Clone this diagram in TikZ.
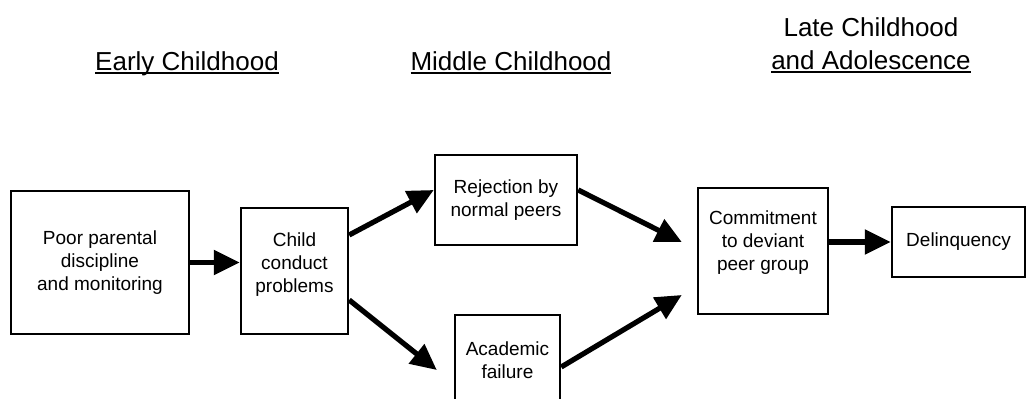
\documentclass[tikz,border=0pt]{standalone}
\usepackage{fontspec}
\setmainfont{Liberation Sans}
\usetikzlibrary{arrows.meta, positioning}
% underline that sits just under the baseline
\newcommand{\eraline}[1]{\setbox0\hbox{#1}\rlap{\rule[-1.6pt]{\wd0}{0.9pt}}\box0}
\tikzset{
  stage/.style={draw, rectangle, line width=1.2pt, align=center, inner sep=2pt, font=\fontsize{9.5}{11.5}\selectfont},
  era/.style={anchor=base, font=\fontsize{13}{16.5}\selectfont},
  flow/.style={-{Triangle[length=13pt, width=12pt]}, line width=2.6pt},
}

\begin{document}
\begin{tikzpicture}[x=0.5pt, y=-0.5pt]
  \useasboundingbox (0,0) rectangle (1028,399);
  \clip (0,0) rectangle (1028,399);

  \node[era] (early) at (187,71) {\eraline{Early Childhood}};
  \node[era] (middle) at (511,71) {\eraline{Middle Childhood}};
  \node[era] (adol) at (871,70) {\eraline{and Adolescence}};
  \node[era] (late) at (871,37) {Late Childhood};

  \node[stage, minimum width=89pt, minimum height=71.5pt] (parent) at (100,262.5) {Poor parental\\discipline\\and monitoring};
  \node[stage, minimum width=53.5pt, minimum height=63pt, text depth=8pt] (child) at (294.5,271) {Child\\conduct\\problems};
  \node[stage, minimum width=71pt, minimum height=45pt] (reject) at (506,200) {Rejection by\\normal peers};
  \node[stage, minimum width=52.5pt, minimum height=45pt] (school) at (507.5,360) {Academic\\failure};
  \node[stage, minimum width=65pt, minimum height=63pt, text depth=10pt] (peer) at (763,251) {Commitment\\to deviant\\peer group};
  \node[stage, minimum width=66.5pt, minimum height=35pt] (delinq) at (958.5,242) {Delinquency};

  \draw[flow] (parent.east) -- (parent.east -| child.west);
  \draw[flow] ([yshift=18pt]child.east) -- ([yshift=5pt]reject.west);
  \draw[flow] ([yshift=-14.5pt]child.east) -- ([xshift=-8.5pt, yshift=-5pt]school.west);
  \draw[flow] ([yshift=5pt]reject.east) -- ([xshift=-7.5pt, yshift=4.5pt]peer.west);
  \draw[flow] ([yshift=-3.5pt]school.east) -- ([xshift=-7.5pt, yshift=-22pt]peer.west);
  \draw[flow] (delinq.west -| peer.east) -- (delinq.west);
\end{tikzpicture}
\end{document}
